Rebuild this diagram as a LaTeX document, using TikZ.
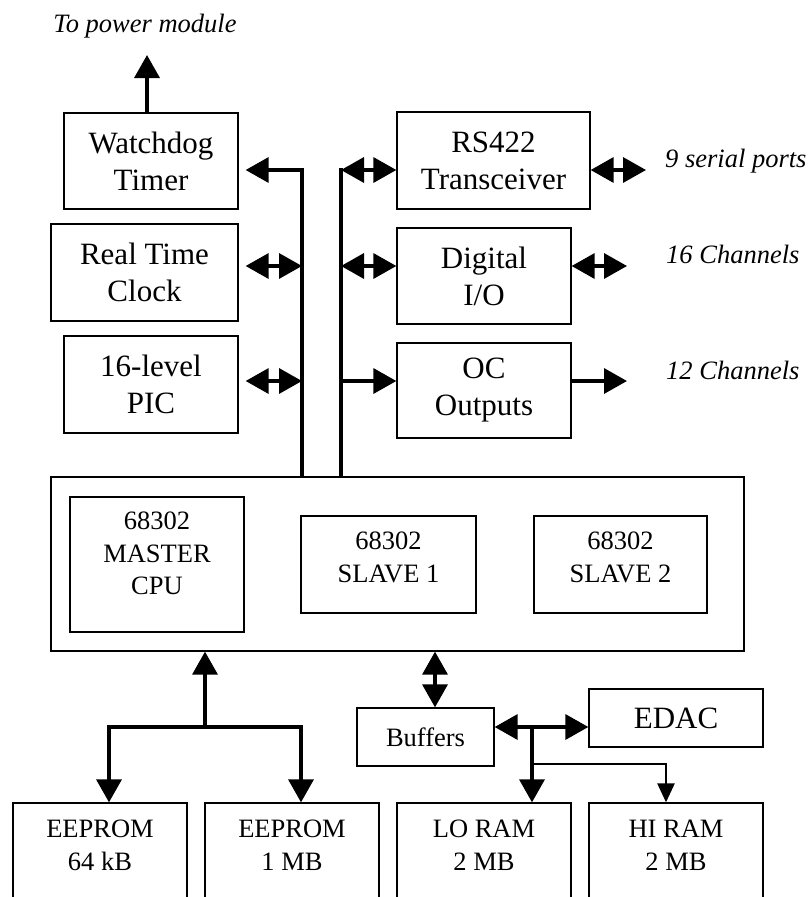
\documentclass[tikz,border=0pt]{standalone}
\usepackage{fontspec}
\setmainfont{Liberation Serif}
\usetikzlibrary{arrows.meta}
\tikzset{
blk/.style={draw,line width=1.3pt,align=center,inner sep=0pt,font=\fontsize{31}{37}\selectfont},
sblk/.style={blk,font=\fontsize{26.5}{32.5}\selectfont},
lbl/.style={align=center,inner sep=0pt,font=\fontsize{26.5}{32.5}\selectfont},
note/.style={inner sep=0pt,font=\fontsize{26.5}{32}\selectfont\itshape},
bus/.style={line width=3.5pt},
wire/.style={line width=2.6pt},
head/.tip={Triangle[length=23pt,width=25pt]},
shead/.tip={Triangle[length=19pt,width=17pt]}
}
\begin{document}
\begin{tikzpicture}[x=1pt,y=-1pt]
\useasboundingbox (0,0) rectangle (809,897);
\clip (0,0) rectangle (809,897);
\node[note,anchor=base] (pwrtxt) at (145,32) {To power module};
\node[blk,minimum width=174,minimum height=96] (wd) at (151,161) {Watchdog\\Timer};
\node[blk,minimum width=187,minimum height=97] (rtc) at (144.5,272.5) {Real Time\\Clock};
\node[blk,minimum width=174,minimum height=97] (pic) at (151,384.5) {16-level\\PIC};
\node[blk,minimum width=193,minimum height=97] (rs) at (493.5,160.5) {RS422\\Transceiver};
\node[blk,minimum width=174,minimum height=96] (dio) at (484,276) {Digital\\I/O};
\node[blk,minimum width=174,minimum height=95] (oc) at (484,390.5) {OC\\Outputs};
\node[note,anchor=base west] (n1) at (665,167) {9 serial ports};
\node[note,anchor=base west] (n2) at (666,263) {16 Channels};
\node[note,anchor=base west] (n3) at (666,379) {12 Channels};
\node[blk,minimum width=693,minimum height=174] (cpu) at (397.5,564) {};
\node[sblk,minimum width=174,minimum height=135,label={[lbl,yshift=11pt]center:{68302\\MASTER\\CPU}}] (mst) at (157,564.5) {};
\node[sblk,minimum width=175,minimum height=97,label={[lbl,yshift=7pt]center:{68302\\SLAVE 1}}] (sl1) at (388.5,564.5) {};
\node[sblk,minimum width=173,minimum height=97,label={[lbl,yshift=7pt]center:{68302\\SLAVE 2}}] (sl2) at (620.5,564.5) {};
\node[sblk,minimum width=137,minimum height=58] (buf) at (425.5,737) {Buffers};
\node[blk,minimum width=174,minimum height=58] (edac) at (676,718) {EDAC};
\node[sblk,minimum width=174,minimum height=150,label={[lbl,yshift=32.5pt]center:{EEPROM\\64 kB}}] (ee1) at (100,878) {};
\node[sblk,minimum width=174,minimum height=150,label={[lbl,yshift=32.5pt]center:{EEPROM\\1 MB}}] (ee2) at (292,878) {};
\node[sblk,minimum width=174,minimum height=150,label={[lbl,yshift=32.5pt]center:{LO RAM\\2 MB}}] (lo) at (484,878) {};
\node[sblk,minimum width=174,minimum height=150,label={[lbl,yshift=32.5pt]center:{HI RAM\\2 MB}}] (hi) at (676,878) {};
\coordinate (pw) at (147,55);
\coordinate (busL) at (302,170);
\coordinate (busR) at (341,170);
\coordinate (r2) at (0,266);
\coordinate (r3) at (0,381);
\coordinate (o1) at (646,170);
\coordinate (o2) at (627,266);
\coordinate (o3) at (627,381);
\coordinate (jm) at (205,727);
\coordinate (jl) at (109,727);
\coordinate (jr) at (301,727);
\coordinate (jb) at (532,727);
\coordinate (jh) at (532,764);
\coordinate (hx) at (666,764);
\draw[bus][-head] (pw |- wd.north) -- (pw);
\draw[bus][-head,shorten >=7pt] (busL |- cpu.north) -- (busL) -- (busL -| wd.east);
\draw[bus][head-head,shorten <=7pt] (rtc.east |- r2) -- (busL |- r2);
\draw[bus][head-head,shorten <=7pt] (pic.east |- r3) -- (busL |- r3);
\draw[bus] (busR |- cpu.north) -- ([yshift=1.75pt]busR);
\draw[bus][head-head] (busR) -- (rs.west |- busR);
\draw[bus][head-head] (busR |- r2) -- (dio.west |- r2);
\draw[bus][-head] (busR |- r3) -- (oc.west |- r3);
\draw[bus][head-head] (rs.east |- o1) -- (o1);
\draw[bus][head-head] (dio.east |- o2) -- (o2);
\draw[bus][-head] (oc.east |- o3) -- (o3);
\draw[bus][-head] (jm) -- (jm |- cpu.south);
\draw[bus][head-head] (jl |- ee1.north) -- (jl) -- (jr) -- (jr |- ee2.north);
\draw[bus][head-head] ([xshift=9.5pt]buf.north) -- ([xshift=9.5pt]buf.north |- cpu.south);
\draw[bus][head-head] (buf.east |- jb) -- (edac.west |- jb);
\draw[bus][-head] (jb) -- (jb |- lo.north);
\draw[wire][-shead] (jh) -| (hx |- hi.north);
\end{tikzpicture}
\end{document}
